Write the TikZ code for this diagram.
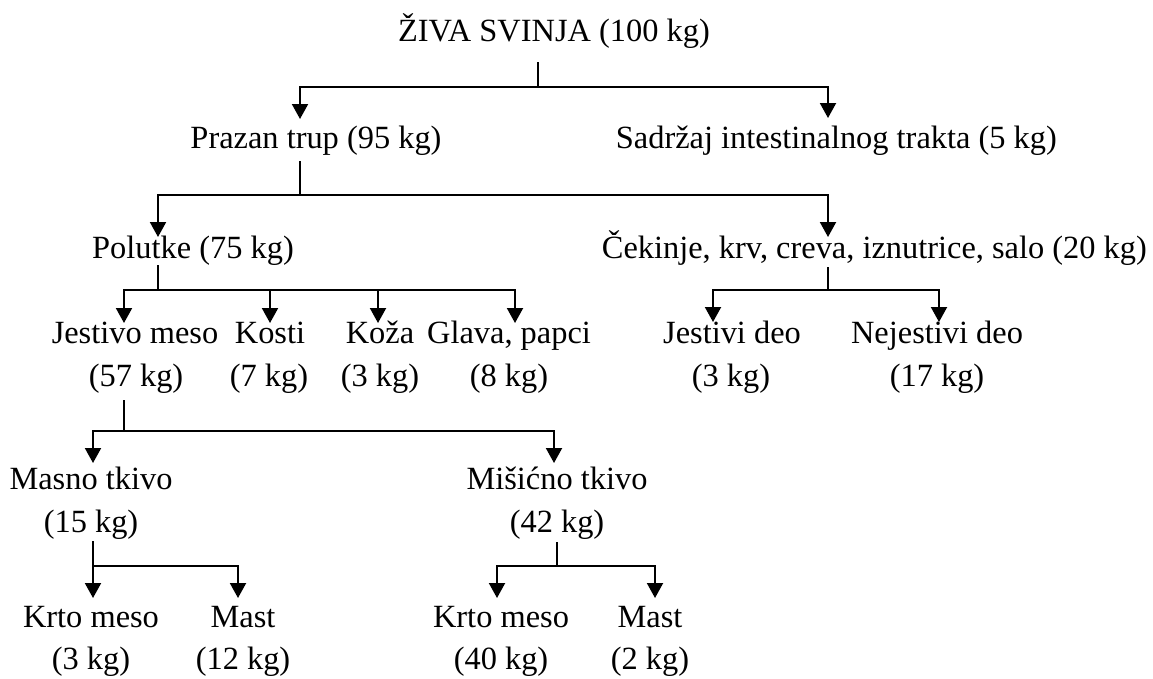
\documentclass[tikz,border=0pt]{standalone}
\usepackage{fontspec}
\setmainfont{Liberation Serif}
\usetikzlibrary{arrows.meta}
\begin{document}
\begin{tikzpicture}[x=1pt,y=-1pt,
  lbl/.style={anchor=base,inner sep=0pt,font=\fontsize{32.4}{38}\selectfont},
  stem/.style={line width=1.4pt},
  arr/.style={line width=2pt,-{Triangle[length=15pt,width=16pt]}}]
\useasboundingbox (0,0) rectangle (1153,678);
% nodes
\node[lbl] (title) at (554,41) {ŽIVA SVINJA (100 kg)};
\node[lbl] (prazan) at (316,148) {Prazan trup (95 kg)};
\node[lbl,anchor=base east] (sadrzaj) at (1057,148) {Sadržaj intestinalnog trakta (5 kg)};
\node[lbl] (polutke) at (193,258) {Polutke (75 kg)};
\node[lbl,anchor=base east] (cekinje) at (1147,258) {Čekinje, krv, creva, iznutrice, salo (20 kg)};
\node[lbl] (jestivo) at (135,343) {Jestivo meso};
\node[lbl] (jestivokg) at (136,386) {(57 kg)};
\node[lbl] (kosti) at (270,343) {Kosti};
\node[lbl] (kostikg) at (269,386) {(7 kg)};
\node[lbl] (koza) at (380,343) {Koža};
\node[lbl] (kozakg) at (380,386) {(3 kg)};
\node[lbl] (glava) at (509,343) {Glava, papci};
\node[lbl] (glavakg) at (509,386) {(8 kg)};
\node[lbl] (jdeo) at (732,343) {Jestivi deo};
\node[lbl] (jdeokg) at (731,386) {(3 kg)};
\node[lbl] (njdeo) at (937,343) {Nejestivi deo};
\node[lbl] (njdeokg) at (937,386) {(17 kg)};
\node[lbl] (masno) at (91,489) {Masno tkivo};
\node[lbl] (masnokg) at (91,532) {(15 kg)};
\node[lbl] (misicno) at (557,489) {Mišićno tkivo};
\node[lbl] (misicnokg) at (557,532) {(42 kg)};
\node[lbl] (krtoa) at (91,627) {Krto meso};
\node[lbl] (krtoakg) at (91,669) {(3 kg)};
\node[lbl] (masta) at (243,627) {Mast};
\node[lbl] (mastakg) at (243,669) {(12 kg)};
\node[lbl] (krtob) at (501,627) {Krto meso};
\node[lbl] (krtobkg) at (501,669) {(40 kg)};
\node[lbl] (mastb) at (650,627) {Mast};
\node[lbl] (mastbkg) at (650,669) {(2 kg)};
% junction and tip coordinates
\coordinate (s0) at (538,62);  \coordinate (j0) at (538,87);
\coordinate (t-prazan) at (300,119); \coordinate (t-sadrzaj) at (828,118);
\coordinate (s1) at (300,161); \coordinate (j1) at (300,195);
\coordinate (t-polutke) at (158,237); \coordinate (t-cekinje) at (828,237);
\coordinate (s2) at (158,265); \coordinate (j2) at (158,290);
\coordinate (t-jestivo) at (124,323); \coordinate (t-kosti) at (270,323);
\coordinate (t-koza) at (378,323); \coordinate (t-glava) at (515,323);
\coordinate (s3) at (828,267); \coordinate (j3) at (828,290);
\coordinate (t-jdeo) at (713,322); \coordinate (t-njdeo) at (939,322);
\coordinate (s4) at (124,400); \coordinate (j4) at (124,431);
\coordinate (t-masno) at (93,463); \coordinate (t-misicno) at (554,463);
\coordinate (s5) at (93,541); \coordinate (j5) at (93,566);
\coordinate (t-krtoa) at (93,598); \coordinate (t-masta) at (238,598);
\coordinate (s6) at (557,542); \coordinate (j6) at (557,566);
\coordinate (t-krtob) at (497,598); \coordinate (t-mastb) at (655,598);
% connectors
\draw[stem] (s0) -- (j0);
\draw[arr] (j0) -| (t-prazan);
\draw[arr] (j0) -| (t-sadrzaj);
\draw[stem] (s1) -- (j1);
\draw[arr] (j1) -| (t-polutke);
\draw[arr] (j1) -| (t-cekinje);
\draw[stem] (s2) -- (j2);
\draw[arr] (j2) -| (t-jestivo);
\draw[arr] (j2) -| (t-glava);
\draw[arr] (t-kosti |- j2) -- (t-kosti);
\draw[arr] (t-koza |- j2) -- (t-koza);
\draw[stem] (s3) -- (j3);
\draw[arr] (j3) -| (t-jdeo);
\draw[arr] (j3) -| (t-njdeo);
\draw[stem] (s4) -- (j4);
\draw[arr] (j4) -| (t-masno);
\draw[arr] (j4) -| (t-misicno);
\draw[stem] (s5) -- (j5);
\draw[arr] (j5) -- (t-krtoa);
\draw[arr] (j5) -| (t-masta);
\draw[stem] (s6) -- (j6);
\draw[arr] (j6) -| (t-krtob);
\draw[arr] (j6) -| (t-mastb);
\end{tikzpicture}
\end{document}
